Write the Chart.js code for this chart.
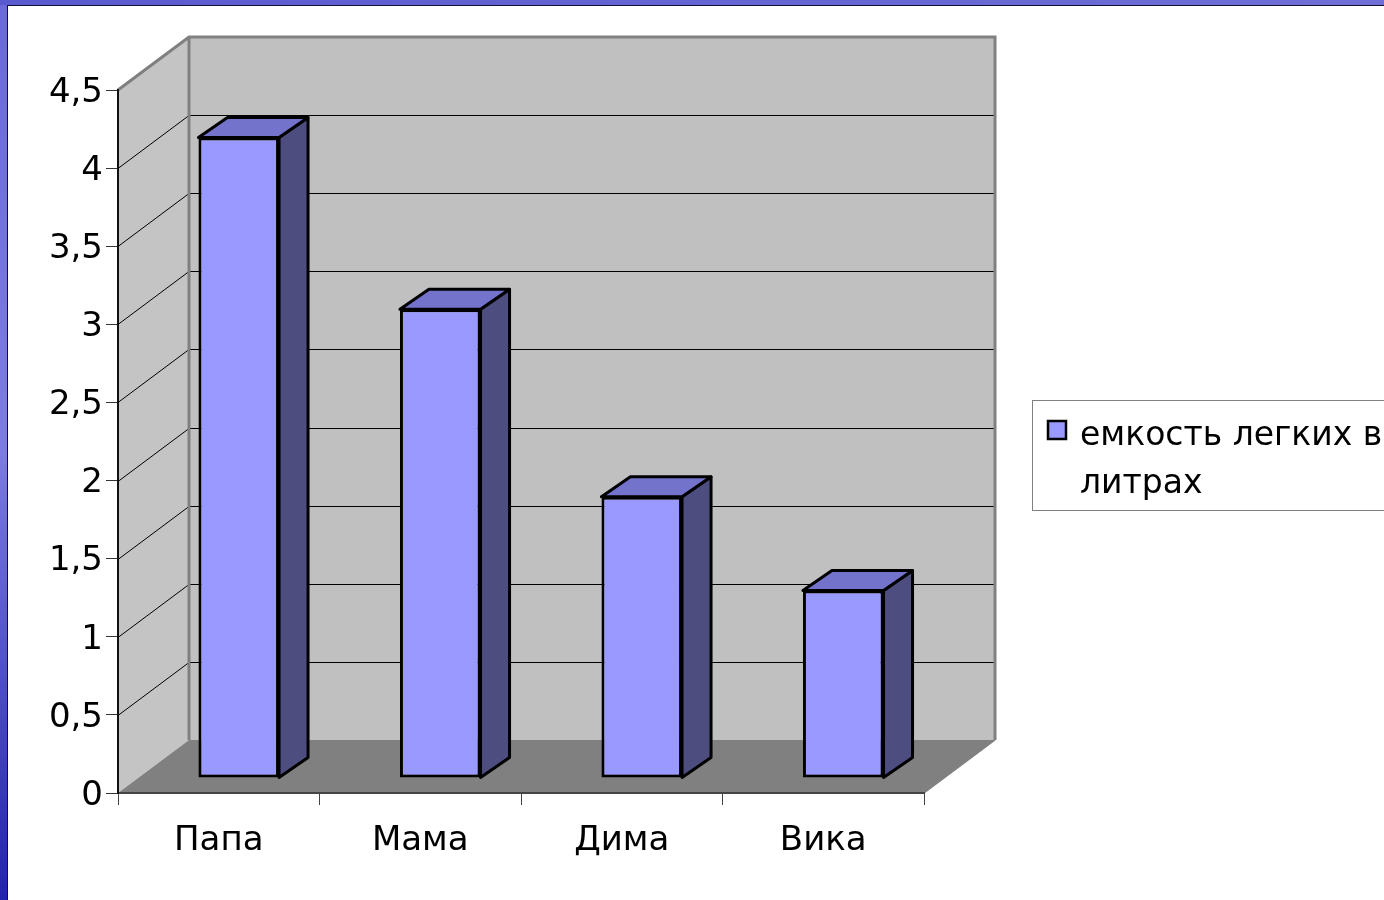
<!DOCTYPE html>
<html>
<head>
<meta charset="utf-8">
<script src="https://cdn.jsdelivr.net/npm/chart.js@4"></script>
<style>
  html, body { margin: 0; padding: 0; background: #fff; }
  #wrap { width: 1384px; height: 900px; }
</style>
</head>
<body>
<div id="wrap"><canvas id="lungs" width="1384" height="900"></canvas></div>
<script>
const categories = ['Папа', 'Мама', 'Дима', 'Вика'];
const lungCapacity = [4.1, 3.0, 1.8, 1.2];
const seriesLabel = 'емкость легких в литрах';
const yMax = 4.5;
const yStep = 0.5;

// 3d look: depth of the walls and where the bars sit inside it
const WALL_DX = 71, WALL_DY = -53;
const BAR_DX = 20, BAR_DY = -15;
const BAR_DEPTH_X = 29, BAR_DEPTH_Y = -20;
const FONT = '"DejaVu Sans", Verdana, sans-serif';

function poly(ctx, pts, fill, stroke, lw) {
    ctx.beginPath();
    ctx.moveTo(pts[0][0], pts[0][1]);
    for (let i = 1; i < pts.length; i++) ctx.lineTo(pts[i][0], pts[i][1]);
    ctx.closePath();
    if (fill) { ctx.fillStyle = fill; ctx.fill(); }
    if (stroke) { ctx.strokeStyle = stroke; ctx.lineWidth = lw || 1; ctx.stroke(); }
}

const wallsPlugin = {
    id: 'walls',
    beforeDraw(chart) {
        const ctx = chart.ctx;
        const a = chart.chartArea;
        const y = chart.scales.y;
        const W = chart.width, H = chart.height;

        // slide frame
        ctx.save();
        ctx.fillStyle = '#fff';
        ctx.fillRect(0, 0, W, H);
        let g = ctx.createLinearGradient(0, 0, 0, H);
        g.addColorStop(0, '#6a6ad8');
        g.addColorStop(0.5, '#7c7ce0');
        g.addColorStop(1, '#2222b0');
        ctx.fillStyle = g;
        ctx.fillRect(0, 0, 7, H);
        g = ctx.createLinearGradient(0, 0, W, 0);
        g.addColorStop(0, '#5a5ad0');
        g.addColorStop(1, '#6f6fd6');
        ctx.fillStyle = g;
        ctx.fillRect(0, 0, W, 5);
        ctx.fillStyle = '#111133';
        ctx.fillRect(7, 5, 1, H);
        ctx.fillRect(7, 5, W, 1);

        const L = a.left, R = a.right, T = y.getPixelForValue(yMax), B = y.getPixelForValue(0);

        // side wall
        poly(ctx, [[L, B], [L, T], [L + WALL_DX, T + WALL_DY], [L + WALL_DX, B + WALL_DY]], '#c4c4c4');
        // back wall
        poly(ctx, [[L + WALL_DX, T + WALL_DY], [R + WALL_DX, T + WALL_DY], [R + WALL_DX, B + WALL_DY], [L + WALL_DX, B + WALL_DY]], '#c0c0c0');
        // floor
        poly(ctx, [[L, B], [R, B], [R + WALL_DX, B + WALL_DY], [L + WALL_DX, B + WALL_DY]], '#808080');

        // grid lines
        ctx.strokeStyle = '#000';
        ctx.lineWidth = 1;
        for (let v = yStep; v < yMax - 1e-9; v += yStep) {
            const py = Math.round(y.getPixelForValue(v)) + 0.5;
            ctx.beginPath();
            ctx.moveTo(L, py);
            ctx.lineTo(L + WALL_DX, py + WALL_DY);
            ctx.lineTo(R + WALL_DX, py + WALL_DY);
            ctx.stroke();
        }

        // wall edges
        ctx.strokeStyle = '#808080';
        ctx.lineWidth = 3;
        ctx.beginPath();
        ctx.moveTo(L, T);
        ctx.lineTo(L + WALL_DX, T + WALL_DY);
        ctx.lineTo(R + WALL_DX, T + WALL_DY);
        ctx.lineTo(R + WALL_DX, B + WALL_DY);
        ctx.moveTo(L + WALL_DX, T + WALL_DY);
        ctx.lineTo(L + WALL_DX, B + WALL_DY);
        ctx.stroke();
        ctx.lineWidth = 1.5;
        ctx.beginPath();
        ctx.moveTo(R + WALL_DX, B + WALL_DY);
        ctx.lineTo(R, B);
        ctx.stroke();
        ctx.restore();
    }
};

const barsPlugin = {
    id: 'bars3d',
    beforeDatasetDraw(chart) {
        chart.ctx.save();
        chart.ctx.translate(BAR_DX, BAR_DY);
    },
    afterDatasetDraw(chart, args) {
        const ctx = chart.ctx;
        ctx.lineJoin = 'round';
        for (const bar of args.meta.data) {
            const p = bar.getProps(['x', 'y', 'base', 'width'], true);
            const l = p.x - p.width / 2, r = p.x + p.width / 2;
            poly(ctx, [[r, p.y], [r + BAR_DEPTH_X, p.y + BAR_DEPTH_Y], [r + BAR_DEPTH_X, p.base + BAR_DEPTH_Y], [r, p.base]], '#4d4d80', '#000', 3);
            poly(ctx, [[l, p.y], [l + BAR_DEPTH_X, p.y + BAR_DEPTH_Y], [r + BAR_DEPTH_X, p.y + BAR_DEPTH_Y], [r, p.y]], '#7373cc', '#000', 3);
        }
        ctx.restore();
    }
};

const legendPlugin = {
    id: 'legendBox',
    afterDraw(chart) {
        const ctx = chart.ctx;
        ctx.save();
        ctx.fillStyle = '#fff';
        ctx.fillRect(1032, 400, 400, 110);
        ctx.strokeStyle = '#808080';
        ctx.lineWidth = 1;
        ctx.strokeRect(1032.5, 400.5, 400, 110);
        ctx.fillStyle = '#9999ff';
        ctx.fillRect(1048, 421, 18, 18);
        ctx.strokeStyle = '#000';
        ctx.lineWidth = 2.5;
        ctx.strokeRect(1048, 421, 18, 18);
        ctx.fillStyle = '#000';
        ctx.font = '33px ' + FONT;
        ctx.textBaseline = 'middle';
        // wrap the label the way the box does
        const words = chart.data.datasets[0].label.split(' ');
        const lines = [];
        let cur = '';
        for (const w of words) {
            const t = cur ? cur + ' ' + w : w;
            if (ctx.measureText(t).width > 310 && cur) { lines.push(cur); cur = w; }
            else cur = t;
        }
        lines.push(cur);
        lines.forEach((s, i) => ctx.fillText(s, 1080, 436 + i * 48));
        ctx.restore();
    }
};

new Chart(document.getElementById('lungs'), {
    type: 'bar',
    data: {
        labels: categories,
        datasets: [{
            label: seriesLabel,
            data: lungCapacity,
            backgroundColor: '#9999ff',
            borderColor: '#000',
            borderWidth: 3,
            borderSkipped: false,
            barPercentage: 0.4,
            categoryPercentage: 1.0,
            clip: false
        }]
    },
    options: {
        responsive: false,
        animation: false,
        events: [],
        layout: { padding: { top: 90, right: 460, left: 0, bottom: 0 } },
        plugins: {
            legend: { display: false },
            tooltip: { enabled: false }
        },
        scales: {
            x: {
                afterFit(s) { s.height = 107; },
                grid: { offset: true, drawOnChartArea: false, tickLength: 12, color: '#444', lineWidth: 1 },
                border: { display: true, color: '#444', width: 2 },
                ticks: { color: '#000', padding: 16, font: { family: FONT, size: 34 } }
            },
            y: {
                min: 0,
                max: yMax,
                afterFit(s) { s.width = 118; },
                grid: { drawOnChartArea: false, tickLength: 12, color: '#333', lineWidth: 1 },
                border: { display: true, color: '#111', width: 2 },
                ticks: {
                    stepSize: yStep,
                    color: '#000',
                    padding: 3,
                    labelOffset: 3,
                    font: { family: FONT, size: 34 },
                    callback: v => String(v).replace('.', ',')
                }
            }
        }
    },
    plugins: [wallsPlugin, barsPlugin, legendPlugin]
});
</script>
</body>
</html>
